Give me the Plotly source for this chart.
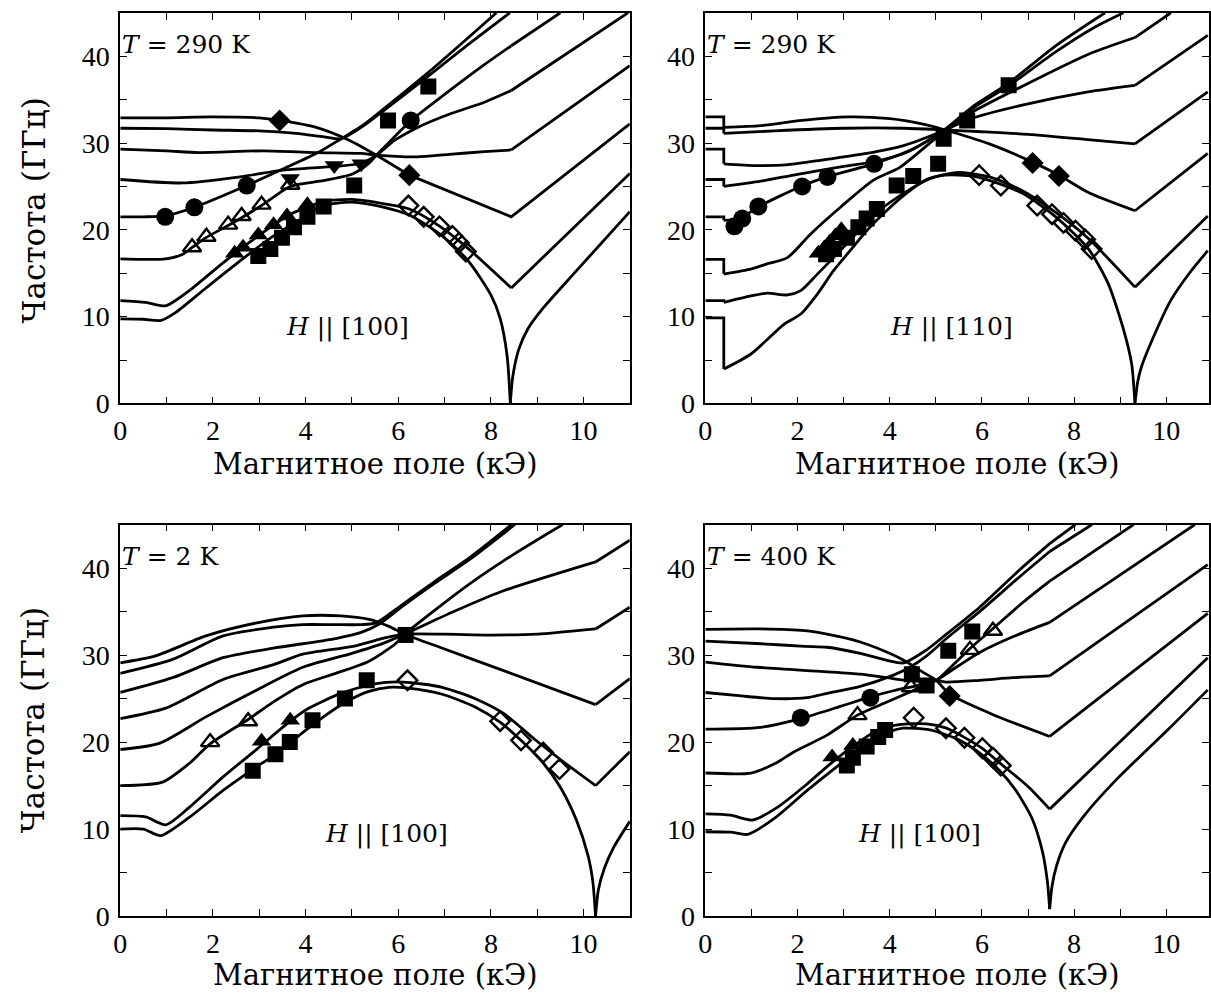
import plotly.graph_objects as go
from plotly.subplots import make_subplots

# ---------------- Panel TL : T = 290 K, H || [100] ----------------
tl_a_x = [0, 0.5, 0.87, 1.2, 1.85, 2.58, 3.31, 4.04, 4.4, 5.0, 5.7, 6.24, 6.9, 7.5, 8.0, 8.2, 8.35, 8.42, 8.47, 8.6, 8.8, 9.13, 9.85, 11]
tl_a_y = [9.75, 9.7, 9.55, 10.5, 13.3, 16.4, 19.3, 21.7, 22.8, 23.2, 22.6, 21.7, 19.5, 16.5, 12.5, 9.8, 5.5, 0, 3.0, 6.2, 8.6, 11.0, 15.3, 22.1]
tl_a_b = [17]
tl_b_x = [0, 0.55, 0.98, 1.49, 2.22, 2.95, 3.67, 4.18, 4.4, 5.0, 5.7, 6.24, 6.9, 7.5, 8.44, 11]
tl_b_y = [11.85, 11.65, 11.25, 13.0, 16.2, 19.2, 21.8, 22.9, 23.3, 23.5, 23.0, 22.4, 20.4, 17.9, 13.3, 26.5]
tl_b_b = [14]
tl_c_x = [0, 0.98, 1.35, 1.56, 1.85, 2.33, 2.62, 3.05, 3.67, 4.3, 5.0, 5.35, 5.53, 6.28, 7.0, 7.8, 8.44, 9.5]
tl_c_y = [16.65, 16.65, 17.2, 18.0, 19.1, 20.5, 21.4, 22.8, 25.0, 25.6, 26.4, 27.6, 28.6, 32.6, 35.6, 38.8, 41.2, 45]
tl_c_b = [16]
tl_d_x = [0, 0.5, 0.97, 1.6, 2.73, 3.55, 4.27, 4.77, 5.2, 5.68, 6.6, 7.4, 8.12]
tl_d_y = [21.5, 21.5, 21.6, 22.6, 25.1, 27.1, 28.9, 30.5, 31.9, 33.9, 37.9, 41.6, 45]
tl_d_b = []
tl_e_x = [0, 1.35, 2.58, 3.55, 4.63, 5.22, 5.53, 5.92, 6.42, 7.14, 7.86, 8.44, 10.96]
tl_e_y = [25.8, 25.4, 26.1, 26.9, 27.3, 27.7, 28.6, 30.3, 31.8, 33.4, 34.7, 36.05, 45]
tl_e_b = [11]
tl_f_x = [0, 1.0, 1.7, 3.1, 4.2, 5.2, 5.53, 6.4, 7.1, 7.86, 8.44, 11]
tl_f_y = [29.3, 29.1, 28.9, 29.1, 28.9, 28.8, 28.6, 28.4, 28.7, 29.0, 29.2, 38.9]
tl_f_b = [10]
tl_g_x = [0, 1, 2, 3, 3.8, 4.4, 4.77, 5.2, 5.68, 6.6, 7.5, 8.41]
tl_g_y = [31.7, 31.65, 31.5, 31.4, 31.1, 30.7, 30.5, 31.8, 33.7, 37.5, 41.3, 45]
tl_g_b = []
tl_h_x = [0, 1, 2, 3, 3.45, 4.23, 4.95, 5.53, 6.24, 8.44, 11]
tl_h_y = [32.9, 32.9, 33.0, 32.9, 32.6, 31.8, 30.3, 28.6, 26.3, 21.5, 32.2]
tl_h_b = [8]

tl_sq_x = [2.98, 3.24, 3.49, 3.75, 4.04, 4.39, 5.05, 5.78, 6.65]
tl_sq_y = [17.0, 17.8, 19.1, 20.3, 21.5, 22.7, 25.1, 32.6, 36.5]
tl_ci_x = [0.97, 1.6, 2.73, 6.27]
tl_ci_y = [21.5, 22.6, 25.1, 32.6]
tl_tr_x = [2.47, 2.65, 2.98, 3.31, 3.6, 4.04]
tl_tr_y = [17.3, 18.0, 19.4, 20.6, 21.6, 22.9]
tl_otr_x = [1.55, 1.86, 2.33, 2.62, 3.05, 3.67]
tl_otr_y = [18.0, 19.2, 20.6, 21.6, 22.9, 25.2]
tl_dtr_x = [3.67, 4.62, 5.2]
tl_dtr_y = [25.9, 27.4, 27.6]
tl_di_x = [3.44, 6.24]
tl_di_y = [32.6, 26.3]
tl_odi_x = [6.22, 6.55, 6.89, 7.17, 7.31, 7.46]
tl_odi_y = [22.8, 21.5, 20.4, 19.3, 18.5, 17.5]

# ---------------- Panel TR : T = 290 K, H || [110] ----------------
tr_1_x = [0, 0.4, 0.4, 1.2, 2.1, 3.1, 4.0, 4.7, 5.2, 6.16, 7.1, 7.67, 8.31, 9.32, 10.9]
tr_1_y = [33.0, 33.0, 31.8, 32.0, 32.6, 33.0, 32.8, 32.2, 31.5, 29.9, 27.8, 26.3, 24.3, 22.2, 28.8]
tr_1_b = [2, 13]
tr_2_x = [0, 0.4, 0.4, 1.5, 3.0, 4.3, 5.2, 6.0, 7.0, 8.3, 9.32, 10.9]
tr_2_y = [31.7, 31.7, 31.1, 31.4, 31.7, 31.7, 31.5, 31.3, 31.0, 30.4, 29.9, 35.9]
tr_2_b = [2, 10]
tr_3_x = [0, 0.4, 0.4, 1.1, 1.8, 2.6, 3.5, 4.3, 5.2, 5.7, 6.9, 8.3, 9.32, 10.9]
tr_3_y = [29.3, 29.3, 27.6, 27.4, 27.5, 28.1, 28.8, 29.7, 31.5, 32.7, 34.4, 35.9, 36.65, 42.4]
tr_3_b = [2, 12]
tr_4_x = [0, 0.4, 0.4, 1.2, 2.0, 3.0, 3.7, 4.4, 5.2, 5.7, 6.9, 8.3, 9.32, 10.1]
tr_4_y = [25.8, 25.8, 25.0, 25.6, 26.4, 27.3, 27.9, 29.0, 31.5, 33.3, 36.6, 40.2, 42.15, 45]
tr_4_b = [2, 12]
tr_5_x = [0, 0.4, 0.4, 0.75, 1.13, 2.07, 2.64, 3.65, 4.5, 5.2, 5.8, 6.58, 7.6, 8.67]
tr_5_y = [21.5, 21.5, 21.1, 21.3, 22.6, 25.0, 26.1, 27.6, 29.3, 31.6, 34.2, 36.9, 41.2, 45]
tr_5_b = [2]
tr_6_x = [0, 0.4, 0.4, 1.0, 1.35, 1.78, 2.28, 2.93, 3.64, 4.22, 4.94, 5.2, 5.8, 6.58, 7.6, 8.4, 9.07]
tr_6_y = [16.6, 16.6, 14.9, 15.5, 16.1, 16.8, 19.5, 22.6, 25.7, 27.2, 30.3, 31.4, 34.0, 36.6, 40.5, 43.2, 45]
tr_6_b = [2]
tr_7_x = [0, 0.4, 0.4, 0.99, 1.35, 1.78, 2.07, 2.43, 2.78, 3.14, 3.72, 4.36, 4.87, 5.44, 6.16, 6.88, 7.6, 8.31, 9.32, 10.9]
tr_7_y = [11.85, 11.85, 11.65, 12.4, 12.7, 12.5, 13.0, 14.9, 16.8, 18.8, 22.0, 24.4, 25.9, 26.6, 26.1, 24.5, 22.0, 19.0, 13.4, 21.6]
tr_7_b = [2, 18]
tr_8_x = [0, 0.4, 0.4, 0.99, 1.35, 1.71, 2.07, 2.43, 2.78, 3.14, 3.5, 3.93, 4.36, 4.8, 5.2, 5.8, 6.16, 6.88, 7.6, 8.31, 8.74, 9.1, 9.25, 9.32, 9.38, 9.46, 9.75, 10.1, 10.5, 10.9]
tr_8_y = [9.85, 9.85, 3.96, 5.7, 7.4, 9.15, 10.3, 12.6, 15.3, 17.6, 19.9, 22.2, 24.2, 25.8, 26.3, 26.2, 25.7, 24.2, 21.5, 17.8, 13.8, 8.0, 4.5, 0, 2.5, 4.2, 8.0, 11.9, 15.0, 17.6]
tr_8_b = [2, 23]

tr_ci_x = [0.63, 0.8, 1.15, 2.1, 2.65, 3.66]
tr_ci_y = [20.4, 21.3, 22.7, 25.0, 26.1, 27.6]
tr_sq_x = [2.62, 2.79, 3.07, 3.32, 3.5, 3.72, 4.15, 4.51, 5.05, 5.17, 5.68, 6.58]
tr_sq_y = [17.2, 17.8, 19.1, 20.3, 21.3, 22.4, 25.1, 26.2, 27.6, 30.5, 32.6, 36.65]
tr_tr_x = [2.45, 2.58, 2.7, 2.82, 2.95]
tr_tr_y = [17.3, 17.9, 18.6, 19.3, 20.0]
tr_di_x = [7.1, 7.67]
tr_di_y = [27.7, 26.2]
tr_odi_x = [5.94, 6.41, 7.2, 7.52, 7.77, 8.03, 8.24, 8.38]
tr_odi_y = [26.3, 25.1, 22.8, 21.8, 20.8, 19.9, 18.9, 17.8]

# ---------------- Panel BL : T = 2 K, H || [100] ----------------
bl_1_x = [0, 0.76, 1.85, 2.95, 3.94, 4.76, 5.37, 5.8, 6.14, 7.0, 8.23, 10.26, 11]
bl_1_y = [29.1, 29.9, 32.2, 33.7, 34.5, 34.5, 34.1, 33.3, 32.4, 30.7, 28.3, 24.3, 27.3]
bl_1_b = [11]
bl_2_x = [0, 1.13, 2.22, 3.31, 3.94, 4.6, 5.2, 5.52, 6.09, 6.8, 7.52, 8.45]
bl_2_y = [27.9, 29.5, 32.2, 33.2, 33.5, 33.5, 33.5, 33.7, 35.8, 38.5, 41.1, 45]
bl_2_b = []
bl_3_x = [0, 1.13, 2.22, 3.31, 3.94, 4.65, 5.2, 5.6, 6.09, 6.8, 7.52, 8.52]
bl_3_y = [25.7, 27.4, 29.7, 30.8, 31.3, 31.9, 32.6, 33.6, 35.6, 38.3, 40.9, 45]
bl_3_b = []
bl_4_x = [0, 0.98, 2.22, 3.31, 3.94, 5.02, 5.73, 6.14, 7.0, 8.0, 9.0, 10.26, 11]
bl_4_y = [22.7, 23.9, 27.2, 28.9, 30.1, 31.0, 32.0, 32.4, 32.4, 32.3, 32.4, 33.0, 35.5]
bl_4_b = [11]
bl_5_x = [0, 0.84, 1.85, 2.95, 3.94, 5.0, 5.7, 6.14, 7.2, 8.23, 10.26, 11]
bl_5_y = [19.15, 19.85, 22.9, 26.0, 28.6, 30.2, 31.4, 32.4, 35.0, 37.3, 40.7, 43.2]
bl_5_b = [10]
bl_6_x = [0, 0.91, 1.5, 1.94, 2.76, 3.3, 3.94, 4.65, 5.37, 5.94, 6.14, 6.8, 7.52, 8.5, 9.55]
bl_6_y = [15.0, 15.4, 17.6, 19.8, 22.6, 24.6, 26.6, 27.9, 29.3, 31.3, 32.4, 35.2, 38.1, 41.6, 45]
bl_6_b = []
bl_7_x = [0, 0.55, 0.98, 1.49, 2.22, 2.95, 3.67, 4.04, 4.76, 5.49, 6.1, 6.95, 7.7, 8.3, 8.95, 9.6, 10.26, 11]
bl_7_y = [11.55, 11.4, 10.5, 12.5, 16.0, 19.2, 22.4, 23.8, 25.6, 26.7, 26.9, 26.3, 24.9, 23.2, 20.3, 17.6, 15.0, 18.9]
bl_7_b = [16]
bl_8_x = [0, 0.5, 0.87, 1.49, 2.22, 2.87, 3.35, 3.66, 4.18, 4.87, 5.35, 5.8, 6.22, 6.95, 7.67, 8.22, 8.69, 9.13, 9.49, 9.85, 10.1, 10.2, 10.26, 10.32, 10.45, 10.65, 11]
bl_8_y = [10.0, 10.0, 9.25, 11.35, 14.45, 16.9, 18.6, 19.9, 22.1, 24.6, 25.8, 26.3, 26.2, 25.5, 24.0, 22.2, 20.0, 17.6, 14.9, 11.0, 6.9, 4.0, 0, 3.0, 5.5, 7.9, 10.9]
bl_8_b = [22]

bl_otr_x = [1.94, 2.76]
bl_otr_y = [20.0, 22.4]
bl_tr_x = [3.05, 3.67]
bl_tr_y = [20.1, 22.5]
bl_sq_x = [2.86, 3.35, 3.66, 4.15, 4.85, 5.32, 6.16]
bl_sq_y = [16.7, 18.6, 20.0, 22.5, 25.0, 27.1, 32.3]
bl_odi_x = [6.2, 8.2, 8.65, 9.13, 9.48]
bl_odi_y = [27.1, 22.4, 20.2, 18.8, 16.9]

# ---------------- Panel BR : T = 400 K, H || [100] ----------------
br_1_x = [0, 1.21, 2.16, 2.64, 3.36, 4.08, 4.37, 4.7, 5.01, 5.3, 6.31, 7.47, 10.9]
br_1_y = [32.95, 33.0, 32.8, 32.4, 31.5, 30.0, 29.2, 28.1, 27.1, 25.5, 23.0, 20.65, 34.8]
br_1_b = [11]
br_2_x = [0, 1.21, 2.16, 2.64, 3.36, 3.94, 4.3, 4.8, 5.23, 5.95, 6.82, 7.47, 8.03]
br_2_y = [31.6, 31.3, 31.0, 30.9, 30.2, 29.4, 29.1, 30.6, 32.4, 35.5, 39.8, 42.8, 45]
br_2_b = [11]
br_3_x = [0, 1.13, 2.57, 3.36, 3.94, 4.36, 4.8, 5.01, 5.23, 5.95, 6.67, 7.47, 10.9]
br_3_y = [29.2, 28.6, 28.1, 27.8, 27.4, 27.1, 27.0, 27.1, 26.9, 27.1, 27.4, 27.6, 40.4]
br_3_b = [11]
br_4_x = [0, 0.78, 1.49, 2.2, 2.64, 3.36, 4.08, 4.44, 4.8, 5.23, 5.95, 6.82, 7.47, 8.39]
br_4_y = [25.7, 25.3, 25.0, 25.1, 25.6, 26.4, 27.7, 28.6, 29.9, 31.9, 35.0, 39.0, 41.9, 45]
br_4_b = [12]
br_5_x = [0, 1.2, 2.07, 2.93, 3.58, 4.08, 4.6, 5.01, 5.4, 5.73, 6.23, 6.9, 7.47, 9.29]
br_5_y = [21.5, 21.7, 22.7, 24.1, 25.2, 25.9, 26.5, 27.1, 29.0, 30.7, 33.0, 36.1, 38.5, 45]
br_5_b = [12]
br_6_x = [0, 0.99, 1.5, 1.93, 2.64, 3.3, 3.94, 4.5, 5.01, 5.5, 5.95, 6.67, 7.47, 10.62]
br_6_y = [16.45, 16.45, 17.5, 18.9, 20.8, 23.1, 24.6, 25.9, 27.1, 28.8, 30.3, 32.1, 33.75, 45]
br_6_b = [12]
br_7_x = [0, 0.55, 1.03, 1.56, 2.21, 2.71, 3.29, 3.72, 4.2, 4.8, 5.23, 5.6, 6.0, 6.41, 7.0, 7.47, 10.9]
br_7_y = [11.75, 11.6, 11.05, 12.5, 15.2, 17.5, 19.85, 21.3, 22.0, 22.1, 21.6, 20.6, 19.3, 17.5, 14.9, 12.3, 29.7]
br_7_b = [15]
br_8_x = [0, 0.55, 0.92, 1.49, 2.21, 2.93, 3.5, 4.0, 4.29, 4.87, 5.44, 5.94, 6.37, 6.73, 7.09, 7.31, 7.42, 7.47, 7.52, 7.62, 7.81, 8.18, 8.9, 10.05, 10.9]
br_8_y = [9.7, 9.65, 9.4, 11.2, 14.45, 17.5, 19.85, 21.2, 21.6, 21.4, 20.4, 18.8, 16.8, 14.5, 11.2, 7.5, 4.0, 0.8, 3.4, 5.8, 8.4, 11.3, 15.6, 21.5, 26.0]
br_8_b = [17]

br_ci_x = [2.07, 3.58]
br_ci_y = [22.8, 25.1]
br_sq_x = [3.07, 3.2, 3.5, 3.75, 3.9, 4.48, 4.8, 5.27, 5.79]
br_sq_y = [17.3, 18.2, 19.5, 20.6, 21.4, 27.8, 26.5, 30.5, 32.7]
br_tr_x = [2.75, 3.2]
br_tr_y = [18.3, 19.6]
br_otr_x = [3.3, 4.46, 5.74, 6.24]
br_otr_y = [23.1, 26.3, 30.6, 32.8]
br_di_x = [5.3]
br_di_y = [25.3]
br_odi_x = [4.52, 5.22, 5.62, 6.01, 6.24, 6.41]
br_odi_y = [22.8, 21.6, 20.5, 19.3, 18.2, 17.3]

# ---------------- labels ----------------
x_tick_vals = [0, 2, 4, 6, 8, 10]
y_tick_vals = [0, 10, 20, 30, 40]
temp_labels = ["<i>T</i> = 290 K", "<i>T</i> = 290 K", "<i>T</i> = 2 K", "<i>T</i> = 400 K"]
dir_labels = ["<i>H</i> || [100]", "<i>H</i> || [110]", "<i>H</i> || [100]", "<i>H</i> || [100]"]
x_title = "Магнитное поле (кЭ)"
y_title = "Частота (ГГц)"

TICK_FONT = "Liberation Serif"
TEXT_FONT = "DejaVu Serif"
LW = 2.8

fig = make_subplots(rows=2, cols=2)


def add_curve(xs, ys, breaks, row, col):
    idx = [0] + list(breaks) + [len(xs) - 1]
    for a, b in zip(idx[:-1], idx[1:]):
        px = xs[a:b + 1]
        py = ys[a:b + 1]
        shape = 'spline' if len(px) > 3 else 'linear'
        fig.add_trace(go.Scatter(x=px, y=py, mode='lines',
                                 line=dict(color='black', width=LW, shape=shape, smoothing=0.7),
                                 showlegend=False, hoverinfo='skip'), row=row, col=col)


def add_markers(xs, ys, symbol, size, row, col):
    open_ = symbol.endswith('-open')
    fig.add_trace(go.Scatter(x=xs, y=ys, mode='markers',
                             marker=dict(symbol=symbol, size=size, color='black',
                                         line=dict(color='black', width=2.4 if open_ else 0)),
                             showlegend=False, hoverinfo='skip'), row=row, col=col)


panels = {
    (1, 1): [(tl_a_x, tl_a_y, tl_a_b), (tl_b_x, tl_b_y, tl_b_b), (tl_c_x, tl_c_y, tl_c_b), (tl_d_x, tl_d_y, tl_d_b),
             (tl_e_x, tl_e_y, tl_e_b), (tl_f_x, tl_f_y, tl_f_b), (tl_g_x, tl_g_y, tl_g_b), (tl_h_x, tl_h_y, tl_h_b)],
    (1, 2): [(tr_1_x, tr_1_y, tr_1_b), (tr_2_x, tr_2_y, tr_2_b), (tr_3_x, tr_3_y, tr_3_b), (tr_4_x, tr_4_y, tr_4_b),
             (tr_5_x, tr_5_y, tr_5_b), (tr_6_x, tr_6_y, tr_6_b), (tr_7_x, tr_7_y, tr_7_b), (tr_8_x, tr_8_y, tr_8_b)],
    (2, 1): [(bl_1_x, bl_1_y, bl_1_b), (bl_2_x, bl_2_y, bl_2_b), (bl_3_x, bl_3_y, bl_3_b), (bl_4_x, bl_4_y, bl_4_b),
             (bl_5_x, bl_5_y, bl_5_b), (bl_6_x, bl_6_y, bl_6_b), (bl_7_x, bl_7_y, bl_7_b), (bl_8_x, bl_8_y, bl_8_b)],
    (2, 2): [(br_1_x, br_1_y, br_1_b), (br_2_x, br_2_y, br_2_b), (br_3_x, br_3_y, br_3_b), (br_4_x, br_4_y, br_4_b),
             (br_5_x, br_5_y, br_5_b), (br_6_x, br_6_y, br_6_b), (br_7_x, br_7_y, br_7_b), (br_8_x, br_8_y, br_8_b)],
}
for (r, c), curves in panels.items():
    for xs, ys, br in curves:
        add_curve(xs, ys, br, r, c)

SQ, CI, TR, DI = 16, 18, 17, 17
markers = {
    (1, 1): [(tl_sq_x, tl_sq_y, 'square', SQ), (tl_ci_x, tl_ci_y, 'circle', CI), (tl_tr_x, tl_tr_y, 'triangle-up', TR),
             (tl_otr_x, tl_otr_y, 'triangle-up-open', TR - 1), (tl_dtr_x, tl_dtr_y, 'triangle-down', TR),
             (tl_di_x, tl_di_y, 'diamond', DI), (tl_odi_x, tl_odi_y, 'diamond-open', DI - 2)],
    (1, 2): [(tr_sq_x, tr_sq_y, 'square', SQ), (tr_ci_x, tr_ci_y, 'circle', CI), (tr_tr_x, tr_tr_y, 'triangle-up', TR),
             (tr_di_x, tr_di_y, 'diamond', DI), (tr_odi_x, tr_odi_y, 'diamond-open', DI - 2)],
    (2, 1): [(bl_sq_x, bl_sq_y, 'square', SQ), (bl_tr_x, bl_tr_y, 'triangle-up', TR),
             (bl_otr_x, bl_otr_y, 'triangle-up-open', TR - 1), (bl_odi_x, bl_odi_y, 'diamond-open', DI - 2)],
    (2, 2): [(br_sq_x, br_sq_y, 'square', SQ), (br_ci_x, br_ci_y, 'circle', CI), (br_tr_x, br_tr_y, 'triangle-up', TR),
             (br_otr_x, br_otr_y, 'triangle-up-open', TR - 1), (br_di_x, br_di_y, 'diamond', DI),
             (br_odi_x, br_odi_y, 'diamond-open', DI - 2)],
}
for (r, c), mlist in markers.items():
    for xs, ys, sym, sz in mlist:
        add_markers(xs, ys, sym, sz, r, c)

W, H = 1211, 1005
xdom_left = [114 / W, 627 / W]
xdom_right = [703 / W, 1210 / W]
ydom_top = [1 - 410 / H, 1 - 13 / H]
ydom_bot = [1 - 931 / H, 1 - 533 / H]

axis_common = dict(showline=True, linecolor='black', linewidth=1.6, mirror='allticks', ticks='inside',
                   ticklen=7, tickwidth=1.3, tickcolor='black', showgrid=False, zeroline=False,
                   tickfont=dict(family=TICK_FONT, size=28, color='black'))

layout_axes = {}
names = {(1, 1): ('xaxis', 'yaxis'), (1, 2): ('xaxis2', 'yaxis2'), (2, 1): ('xaxis3', 'yaxis3'), (2, 2): ('xaxis4', 'yaxis4')}
for (r, c), (xn, yn) in names.items():
    xd = xdom_left if c == 1 else xdom_right
    yd = ydom_top if r == 1 else ydom_bot
    xr = [0, 11] if c == 1 else [0, (1210 - 703) / 46.4]
    layout_axes[xn] = dict(axis_common, domain=xd, range=xr, tickvals=x_tick_vals, ticklabelstandoff=1,
                           minor=dict(dtick=1, tick0=0, ticks='inside', ticklen=7, tickcolor='black', showgrid=False))
    layout_axes[yn] = dict(axis_common, domain=yd, range=[0, 45], tickvals=y_tick_vals, ticklabelstandoff=3,
                           minor=dict(dtick=5, tick0=0, ticks='inside', ticklen=7, tickcolor='black', showgrid=False))

fig.update_layout(**layout_axes)

ann = []
axrefs = [('x', 'y'), ('x2', 'y2'), ('x3', 'y3'), ('x4', 'y4')]
t_pos = [(0.0, 41.3), (0.0, 41.3), (0.0, 41.3), (0.0, 41.3)]
h_pos = [(4.9, 8.85), (5.35, 8.85), (5.75, 9.4), (4.65, 9.4)]
for i, (xr_, yr_) in enumerate(axrefs):
    ann.append(dict(x=t_pos[i][0], y=t_pos[i][1], xref=xr_, yref=yr_, text=temp_labels[i], showarrow=False,
                    xanchor='left', yanchor='middle', font=dict(family=TEXT_FONT, size=25, color='black')))
    ann.append(dict(x=h_pos[i][0], y=h_pos[i][1], xref=xr_, yref=yr_, text=dir_labels[i], showarrow=False,
                    xanchor='center', yanchor='middle', font=dict(family=TEXT_FONT, size=25, color='black')))

for xc, yc in [(371, 471), (957, 471), (371, 991), (957, 991)]:
    ann.append(dict(x=xc / W, y=1 - yc / H, xref='paper', yref='paper', text=x_title, showarrow=False,
                    xanchor='center', yanchor='middle', font=dict(family=TEXT_FONT, size=29, color='black')))
for yc in [214, 732]:
    ann.append(dict(x=27 / W, y=1 - yc / H, xref='paper', yref='paper', text=y_title, showarrow=False,
                    textangle=-90, xanchor='center', yanchor='middle', font=dict(family=TEXT_FONT, size=31, color='black')))

fig.update_layout(width=W, height=H, margin=dict(l=0, r=0, t=0, b=0), paper_bgcolor='white',
                  plot_bgcolor='white', annotations=ann, showlegend=False,
                  font=dict(family=TICK_FONT, color='black'))

fig.write_html("out.html", config={'displayModeBar': False},
               post_script="document.body.style.margin='0px';")
